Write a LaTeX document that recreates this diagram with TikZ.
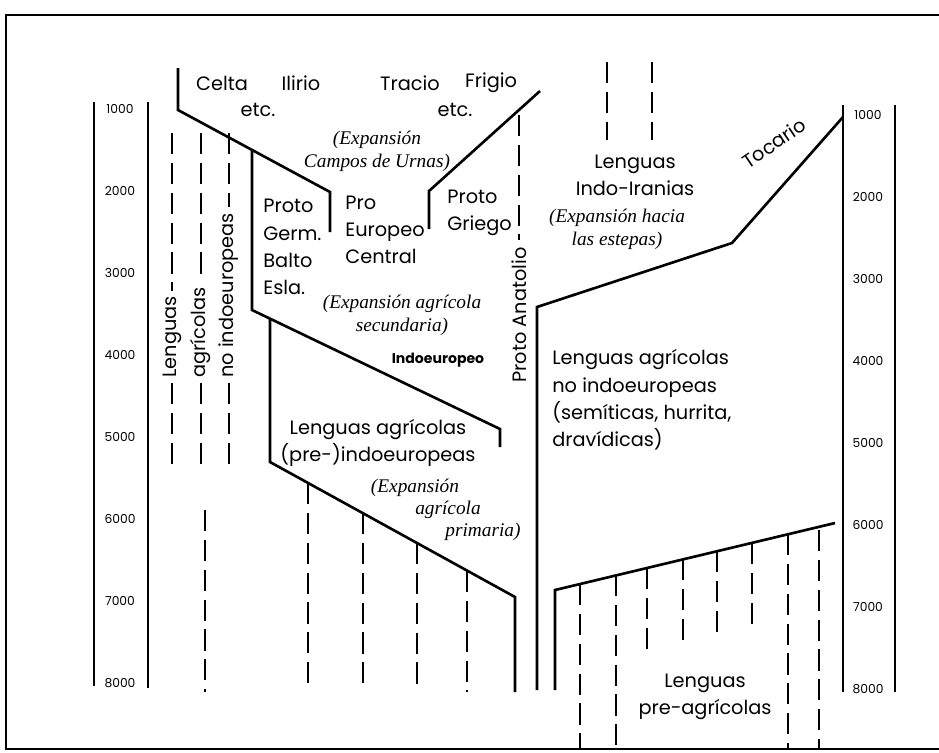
\documentclass[tikz,border=0pt]{standalone}
\usepackage{fontspec}
\setmainfont{Poppins}
\newfontfamily\expfont{Liberation Serif}
\usetikzlibrary{positioning}

\tikzset{
  solidln/.style={line width=1.5pt},
  dashln/.style={line width=1.5pt, dash pattern=on 12pt off 5pt},
  lbl/.style={font=\fontsize{11}{15.5}\selectfont, inner sep=0pt, align=left},
  explbl/.style={font=\expfont\itshape\fontsize{11}{13}\selectfont, inner sep=0pt, align=center},
  yearlbl/.style={font=\fontsize{7}{8}\selectfont, inner sep=0pt},
}

\begin{document}
\begin{tikzpicture}[x=0.02cm, y=-0.02cm]
    \useasboundingbox (0,0) rectangle (939,752);
    \draw[line width=1pt] (939,15) -- (6,15) -- (6,749) -- (939,749);

    % time scales
    \draw[solidln] (94,102) -- (94,686);
    \draw[solidln] (148,102) -- (148,688);
    \draw[solidln] (843,105) -- (843,692);
    \draw[solidln] (895,105) -- (895,692);
    \foreach \k in {1,...,8} {
      \node[yearlbl] (yl\k) at (120,{109+82*(\k-1)}) {\k000};
      \node[yearlbl] (yr\k) at (868,{115+82*(\k-1)}) {\k000};
    }

    % branches
    \draw[solidln] (178,68) -- (178,110) -- (330,192) -- (330,232);
    \draw[solidln] (252,150) -- (252,310) -- (500,429) -- (500,447);
    \draw[solidln] (540,91) -- (429,191) -- (429,229);
    \draw[solidln] (270,319) -- (270,462) -- (515,597) -- (515,692);
    \draw[solidln] (843,117) -- (732,243) -- (537,307) -- (537,690);
    \draw[solidln] (555,690) -- (555,590) -- (835,523);

    % left columns
    \node[lbl, rotate=90, anchor=west] (colA) at (172,378) {Lenguas};
    \node[lbl, rotate=90, anchor=west] (colB) at (201,378) {agrícolas};
    \node[lbl, rotate=90, anchor=west] (colC) at (229,378) {no indoeuropeas};
    \foreach \c/\x in {colA/172, colB/201, colC/229} {
      \draw[dashln, shorten >=3pt] (\x,133) -- (\c.east);
      \draw[dashln, shorten <=3pt] (\c.west) -- (\x,472);
    }
    \draw[dashln] (205,510) -- (205,692);

    % dashed lines
    \foreach \x/\y in {308/483, 363/513, 417/543, 467/571} {
      \draw[dashln] (\x,\y) -- (\x,692);
    }
    \foreach \x/\y/\z in {580/584/749, 616/575/749, 647/568/655, 683/559/647,
                          717/551/638, 752/543/630, 788/534/749, 819/530/749} {
      \draw[dashln] (\x,\y) -- (\x,\z);
    }
    \draw[dashln] (607,62) -- (607,140);
    \draw[dashln] (652,62) -- (652,140);
    \node[lbl, rotate=90, anchor=west] (anat) at (519,383) {Proto Anatolio};
    \draw[dashln, shorten >=4pt] (519,115) -- (anat.east);

    % labels
    \node[lbl] (celta) at (222,83) {Celta};
    \node[lbl] (ilirio) at (301,83) {Ilirio};
    \node[lbl] (etcA) at (258,110) {etc.};
    \node[lbl] (tracio) at (410,83) {Tracio};
    \node[lbl] (frigio) at (491,83) {Frigio};
    \node[lbl] (etcB) at (455,110) {etc.};
    \node[explbl] (campos) at (377,151) {(Expansión\\Campos de Urnas)};
    \node[lbl, anchor=west] (germ) at (263,247) {Proto\\Germ.\\Balto\\Esla.};
    \node[lbl, anchor=west] (pec) at (345,230) {Pro\\Europeo\\Central};
    \node[lbl, anchor=west] (griego) at (447,213) {Proto\\Griego};
    \node[explbl] (secund) at (402,315) {(Expansión agrícola\\secundaria)};
    \node[font=\bfseries\fontsize{8}{9}\selectfont, inner sep=0pt] (ie) at (438,360) {Indoeuropeo};
    \node[lbl, align=center] (preie) at (378,443) {Lenguas agrícolas\\(pre-)indoeuropeas};
    \node[explbl] (primA) at (415,488) {(Expansión};
    \node[explbl] (primB) at (448,510) {agrícola};
    \node[explbl] (primC) at (483,532) {primaria)};
    \node[lbl, align=center] (indoir) at (635,175) {Lenguas\\Indo-Iranias};
    \node[explbl] (estepas) at (617,229) {(Expansión hacia\\las estepas)};
    \node[lbl, rotate=34] (tocario) at (774,143) {Tocario};
    \node[lbl, anchor=west] (noie) at (552,400) {Lenguas agrícolas\\no indoeuropeas\\(semíticas, hurrita,\\dravídicas)};
    \node[lbl, align=center] (preagr) at (705,697) {Lenguas\\pre-agrícolas};
  \end{tikzpicture}
\end{document}
